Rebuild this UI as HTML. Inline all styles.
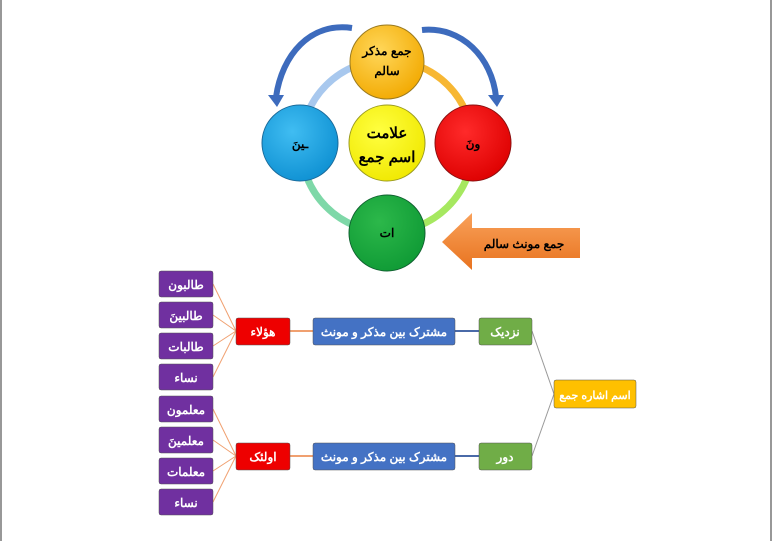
<!DOCTYPE html>
<html><head><meta charset="utf-8"><style>
html,body{margin:0;padding:0;background:#fff}
svg{display:block}
text{font-family:"Liberation Sans","Noto Sans CJK SC",sans-serif;font-weight:bold}
</style></head><body>
<svg width="773" height="541" viewBox="0 0 773 541" xmlns="http://www.w3.org/2000/svg">
<defs>
<radialGradient id="gy" cx="40%" cy="35%" r="70%"><stop offset="0" stop-color="#ffd75a"/><stop offset="1" stop-color="#f2a900"/></radialGradient>
<radialGradient id="gb" cx="40%" cy="35%" r="70%"><stop offset="0" stop-color="#40bdf2"/><stop offset="1" stop-color="#0e90d2"/></radialGradient>
<radialGradient id="gr" cx="40%" cy="35%" r="70%"><stop offset="0" stop-color="#ff2a2a"/><stop offset="1" stop-color="#dd0000"/></radialGradient>
<radialGradient id="gg" cx="40%" cy="35%" r="70%"><stop offset="0" stop-color="#2cb84a"/><stop offset="1" stop-color="#0f9a35"/></radialGradient>
<radialGradient id="gc" cx="40%" cy="35%" r="70%"><stop offset="0" stop-color="#ffff40"/><stop offset="1" stop-color="#f0e800"/></radialGradient>
<linearGradient id="ga" x1="0" y1="0" x2="0" y2="1"><stop offset="0" stop-color="#f9a15a"/><stop offset="1" stop-color="#e8731f"/></linearGradient>
</defs>
<line x1="1" y1="0" x2="1" y2="541" stroke="#777" stroke-width="1.5"/>
<line x1="771" y1="0" x2="771" y2="541" stroke="#777" stroke-width="1.5"/>
<!-- ring -->
<path d="M387,60 A86,86 0 0 0 301,146" stroke="#a8c8ee" stroke-width="7" fill="none"/>
<path d="M387,60 A86,86 0 0 1 473,146" stroke="#f7b733" stroke-width="7" fill="none"/>
<path d="M473,146 A86,86 0 0 1 387,232" stroke="#a6e860" stroke-width="7" fill="none"/>
<path d="M301,146 A86,86 0 0 0 387,232" stroke="#7ed8a8" stroke-width="7" fill="none"/>
<!-- curved arrows -->
<path d="M352,28 C310,22 282,55 276,97" stroke="#3d6bbd" stroke-width="6" fill="none"/>
<polygon points="268,95 284,95 277,107" fill="#3d6bbd"/>
<path d="M422,30 C462,26 492,58 496,97" stroke="#3d6bbd" stroke-width="6" fill="none"/>
<polygon points="488,95 504,95 497,107" fill="#3d6bbd"/>
<!-- circles -->
<circle cx="387" cy="62" r="37" fill="url(#gy)" stroke="#9a7a20" stroke-width="1"/>
<circle cx="300" cy="143" r="38" fill="url(#gb)" stroke="#1a6a9a" stroke-width="1"/>
<circle cx="473" cy="143" r="38" fill="url(#gr)" stroke="#8a1010" stroke-width="1"/>
<circle cx="387" cy="143" r="38" fill="url(#gc)" stroke="#9a9a20" stroke-width="1"/>
<circle cx="387" cy="233" r="38" fill="url(#gg)" stroke="#106030" stroke-width="1"/>
<g text-anchor="middle" fill="#000">
<text x="387" y="55" font-size="12">جمع مذکر</text>
<text x="387" y="75" font-size="12">سالم</text>
<text x="300" y="148" font-size="12">ـینَ</text>
<text x="473" y="148" font-size="12">ونَ</text>
<text x="387" y="138" font-size="15">علامت</text>
<text x="387" y="162" font-size="15">اسم جمع</text>
<text x="387" y="237" font-size="12">ات</text>
</g>
<!-- orange arrow -->
<polygon points="442,242 472,213 472,228 580,228 580,258 472,258 472,270" fill="url(#ga)"/>
<text x="524" y="248" font-size="12" text-anchor="middle" fill="#000">جمع مونث سالم</text>
<!-- connectors -->
<g stroke="#f0a070" stroke-width="1" fill="none">
<line x1="213" y1="284" x2="236" y2="331"/><line x1="213" y1="315" x2="236" y2="331"/><line x1="213" y1="346" x2="236" y2="331"/><line x1="213" y1="377" x2="236" y2="331"/>
<line x1="213" y1="409" x2="236" y2="456"/><line x1="213" y1="440" x2="236" y2="456"/><line x1="213" y1="471" x2="236" y2="456"/><line x1="213" y1="502" x2="236" y2="456"/>
</g>
<g stroke="#f0a070" stroke-width="2"><line x1="290" y1="331" x2="313" y2="331"/><line x1="290" y1="456" x2="313" y2="456"/></g>
<g stroke="#4a6aa8" stroke-width="2"><line x1="455" y1="331" x2="479" y2="331"/><line x1="455" y1="456" x2="479" y2="456"/></g>
<g stroke="#999" stroke-width="1"><line x1="532" y1="331" x2="554" y2="394"/><line x1="532" y1="456" x2="554" y2="394"/></g>
<!-- boxes -->
<g stroke="#555" stroke-width="0.5">
<rect x="159" y="271" width="54" height="26" rx="2" fill="#7030a0"/>
<rect x="159" y="302" width="54" height="26" rx="2" fill="#7030a0"/>
<rect x="159" y="333" width="54" height="26" rx="2" fill="#7030a0"/>
<rect x="159" y="364" width="54" height="26" rx="2" fill="#7030a0"/>
<rect x="159" y="396" width="54" height="26" rx="2" fill="#7030a0"/>
<rect x="159" y="427" width="54" height="26" rx="2" fill="#7030a0"/>
<rect x="159" y="458" width="54" height="26" rx="2" fill="#7030a0"/>
<rect x="159" y="489" width="54" height="26" rx="2" fill="#7030a0"/>
<rect x="236" y="318" width="54" height="27" rx="2" fill="#ee0000"/>
<rect x="236" y="443" width="54" height="27" rx="2" fill="#ee0000"/>
<rect x="313" y="318" width="142" height="27" rx="2" fill="#4472c4"/>
<rect x="313" y="443" width="142" height="27" rx="2" fill="#4472c4"/>
<rect x="479" y="318" width="53" height="27" rx="2" fill="#70ad47"/>
<rect x="479" y="443" width="53" height="27" rx="2" fill="#70ad47"/>
<rect x="554" y="380" width="82" height="28" rx="2" fill="#ffc000"/>
</g>
<g text-anchor="middle" fill="#fff" font-size="12">
<text x="186" y="289">طالبون</text>
<text x="186" y="320">طالبینَ</text>
<text x="186" y="351">طالبات</text>
<text x="186" y="382">نساء</text>
<text x="186" y="414">معلمون</text>
<text x="186" y="445">معلمینَ</text>
<text x="186" y="476">معلمات</text>
<text x="186" y="507">نساء</text>
<text x="263" y="336">هؤلاء</text>
<text x="263" y="461">اولئک</text>
<text x="384" y="336">مشترک بین مذکر و مونث</text>
<text x="384" y="461">مشترک بین مذکر و مونث</text>
<text x="505" y="336">نزدیک</text>
<text x="505" y="461">دور</text>
<text x="595" y="399" font-size="11">اسم اشاره جمع</text>
</g>
</svg>
</body></html>
